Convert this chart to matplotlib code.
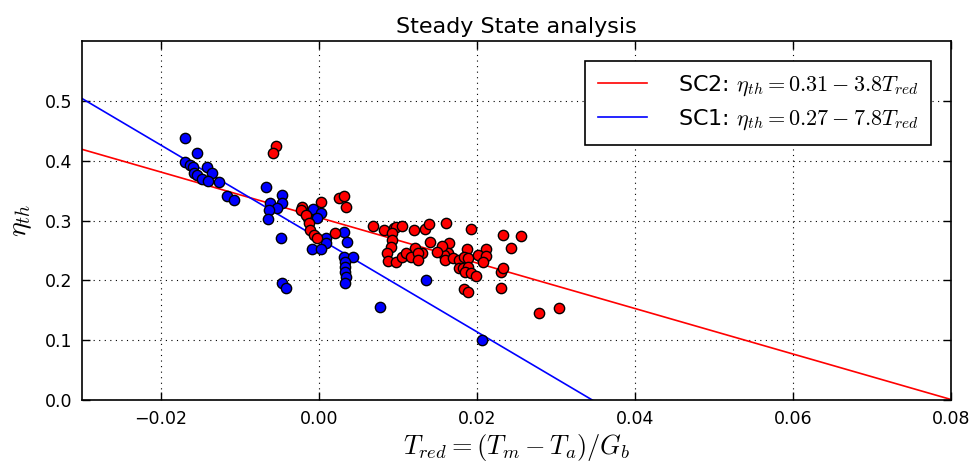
import matplotlib
matplotlib.use("Agg")
import matplotlib.pyplot as plt
import numpy as np

plt.rcParams["font.family"] = "DejaVu Sans"
plt.rcParams["mathtext.fontset"] = "cm"
plt.rcParams["xtick.direction"] = "in"
plt.rcParams["ytick.direction"] = "in"
plt.rcParams["xtick.top"] = True
plt.rcParams["ytick.right"] = True

# SC1 measurements (blue)
sc1_x = [-0.0169, -0.0154, -0.0169, -0.0163, -0.0160, -0.0142, -0.0158, -0.0135,
         -0.0154, -0.0148, -0.0140, -0.0127, -0.0116, -0.0108,
         -0.0067, -0.0047, -0.0062, -0.0047, -0.0053, -0.0063, -0.0064, -0.0048,
         -0.0047, -0.0042, -0.0008, 0.0003, -0.0014, -0.0003, 0.0009, 0.0009,
         -0.0009, 0.0003, 0.0032, 0.0035, 0.0032, 0.0043, 0.0033, 0.0033,
         0.0033, 0.0034, 0.0033, 0.0077, 0.0136, 0.0206]
sc1_y = [0.438, 0.413, 0.398, 0.393, 0.390, 0.390, 0.380, 0.380,
         0.376, 0.370, 0.366, 0.365, 0.341, 0.334,
         0.356, 0.343, 0.329, 0.329, 0.321, 0.318, 0.303, 0.271,
         0.196, 0.187, 0.319, 0.313, 0.304, 0.304, 0.271, 0.263,
         0.253, 0.253, 0.281, 0.264, 0.239, 0.239, 0.231, 0.222,
         0.214, 0.206, 0.196, 0.156, 0.201, 0.100]

# SC2 measurements (red)
sc2_x = [-0.0054, -0.0058, -0.0021, -0.0023, -0.0016, -0.0013, -0.0011, -0.0006,
         -0.0003, 0.0003, 0.0025, 0.0032, 0.0034, 0.0021,
         0.0069, 0.0083, 0.0095, 0.0098, 0.0105, 0.0120, 0.0134, 0.0140,
         0.0161, 0.0192, 0.0233, 0.0256, 0.0243, 0.0141, 0.0165, 0.0122,
         0.0130, 0.0155, 0.0164, 0.0187, 0.0212, 0.0092, 0.0093, 0.0091,
         0.0086, 0.0088, 0.0097, 0.0105, 0.0110, 0.0116, 0.0126, 0.0126,
         0.0158, 0.0160, 0.0170, 0.0177, 0.0184, 0.0189, 0.0202, 0.0211,
         0.0208, 0.0177, 0.0183, 0.0189, 0.0185, 0.0192, 0.0199, 0.0231,
         0.0233, 0.0184, 0.0189, 0.0231, 0.0279, 0.0304, 0.0156, 0.0149]
sc2_y = [0.425, 0.413, 0.323, 0.318, 0.309, 0.296, 0.284, 0.276,
         0.271, 0.331, 0.338, 0.341, 0.323, 0.279,
         0.291, 0.284, 0.288, 0.289, 0.291, 0.284, 0.286, 0.294,
         0.296, 0.286, 0.276, 0.274, 0.254, 0.264, 0.263, 0.254,
         0.246, 0.247, 0.246, 0.253, 0.253, 0.279, 0.268, 0.256,
         0.246, 0.232, 0.231, 0.239, 0.246, 0.239, 0.246, 0.234,
         0.242, 0.234, 0.237, 0.234, 0.239, 0.237, 0.242, 0.241,
         0.231, 0.221, 0.221, 0.222, 0.214, 0.212, 0.207, 0.214,
         0.221, 0.186, 0.181, 0.187, 0.145, 0.154, 0.258, 0.247]

# fitted lines: eta = a - b * T_red
sc2_fit = (0.305, 3.8)
sc1_fit = (0.27, 7.8)

fig = plt.figure(figsize=(9.69, 4.68), dpi=100)
ax = fig.add_axes([0.0846, 0.1453, 0.8965, 0.767])

xs = np.linspace(-0.03, 0.08, 200)
ax.plot(xs, sc2_fit[0] - sc2_fit[1] * xs, color='r', lw=1.2,
        label=r'SC2: $\eta_{th} = 0.31 - 3.8 T_{red}$')
ax.plot(xs, sc1_fit[0] - sc1_fit[1] * xs, color='b', lw=1.2,
        label=r'SC1: $\eta_{th} = 0.27 - 7.8 T_{red}$')

ax.scatter(sc1_x, sc1_y, s=55, c='b', edgecolors='k', linewidths=1.0, zorder=3)
ax.scatter(sc2_x, sc2_y, s=55, c='r', edgecolors='k', linewidths=1.0, zorder=3)

ax.set_xlim(-0.03, 0.08)
ax.set_ylim(0.0, 0.6)
ax.set_xticks([-0.02, 0.0, 0.02, 0.04, 0.06, 0.08])
ax.set_yticks([0.0, 0.1, 0.2, 0.3, 0.4, 0.5])
ax.tick_params(labelsize=12.5, length=6, width=1, pad=7)
ax.grid(True, color='k', linestyle=(0, (1, 4)), linewidth=0.8)
for sp in ax.spines.values():
    sp.set_linewidth(1.2)

ax.set_title('Steady State analysis', fontsize=16)
ax.set_xlabel(r'$T_{red} = (T_m - T_a)/G_b$', fontsize=19, labelpad=3)
ax.set_ylabel(r'$\eta_{th}$', fontsize=20, labelpad=8)

leg = ax.legend(loc='upper right', fontsize=16, handlelength=2.2,
                handletextpad=1.4, borderpad=0.55, labelspacing=0.45,
                borderaxespad=0.9, fancybox=False, framealpha=1)
leg.get_frame().set_edgecolor('k')
leg.get_frame().set_linewidth(1.2)

fig.savefig('out.png', dpi=100)
